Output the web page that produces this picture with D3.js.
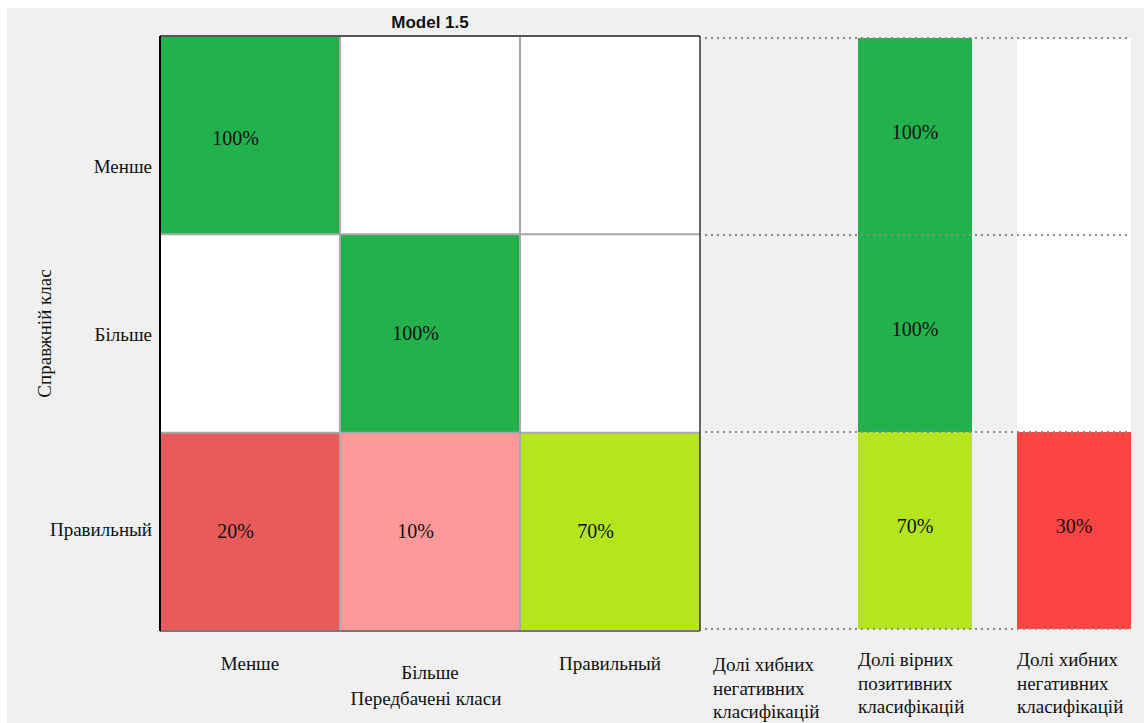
<!DOCTYPE html>
<html>
<head>
<meta charset="utf-8">
<script src="https://cdn.jsdelivr.net/npm/d3@7"></script>
<style>
  body { margin: 0; background: #fff; }
  text { fill: #111; }
</style>
</head>
<body>
<div id="chart"></div>
<script>
const W = 1144, H = 723;

const actual = ["Менше", "Більше", "Правильный"];
const predicted = ["Менше", "Більше", "Правильный"];
const matrix = [
  [100, 0, 0],
  [0, 100, 0],
  [20, 10, 70]
];
const rateCols = ["fnrEmpty", "tpr", "fnr"];
const rateLabels = [
  ["Долі хибних", "негативних", "класифікацій"],
  ["Долі вірних", "позитивних", "класифікацій"],
  ["Долі хибних", "негативних", "класифікацій"]
];
const rateValues = [
  [null, null, null],
  [100, 100, 70],
  [0, 0, 30]
];

const green = "#22b14c", lime = "#b5e61d";

function cellColor(v, r, c) {
  if (v === 0) return "#fff";
  if (r === c) return v === 100 ? green : lime;
  return v >= 20 ? "#e85b5b" : "#ff9999";
}
function rateColor(v, col) {
  if (col === "tpr") return v === 100 ? green : lime;
  return v === 0 ? "#fff" : "#ff4444";
}

const svg = d3.select("#chart").append("svg")
  .attr("width", W).attr("height", H)
  .style("font-family", "'Liberation Serif', 'Times New Roman', serif");

// grey panel
svg.append("rect").attr("x", 7).attr("y", 8)
  .attr("width", W - 7).attr("height", H - 8).attr("fill", "#f0f0f0");

const x = d3.scaleBand().domain(predicted).range([160, 700]);
const y = d3.scaleBand().domain(actual).range([36, 631]);
const xr = d3.scaleBand().domain(rateCols).range([699, 1131]).paddingInner(0.283);
const yr = d3.scaleBand().domain(actual).range([38, 629]);

// matrix cells
const cells = [];
matrix.forEach((row, r) => row.forEach((v, c) => cells.push({ r, c, v })));

svg.append("g").selectAll("rect")
  .data(cells)
  .join("rect")
    .attr("x", d => x(predicted[d.c]))
    .attr("y", d => y(actual[d.r]))
    .attr("width", x.bandwidth())
    .attr("height", y.bandwidth())
    .attr("fill", d => cellColor(d.v, d.r, d.c));

// grid lines
const grid = svg.append("g").attr("stroke", "#a8a8a8").attr("stroke-width", 2);
predicted.slice(1).forEach(p => {
  grid.append("line").attr("x1", x(p)).attr("x2", x(p))
    .attr("y1", y.range()[0]).attr("y2", y.range()[1]);
});
actual.slice(1).forEach(a => {
  grid.append("line").attr("x1", x.range()[0]).attr("x2", x.range()[1])
    .attr("y1", y(a)).attr("y2", y(a));
});

// outer border
const [x0, x1] = x.range(), [y0, y1] = y.range();
svg.append("line").attr("x1", x0).attr("x2", x1).attr("y1", y0).attr("y2", y0)
  .attr("stroke", "#555").attr("stroke-width", 2);
svg.append("line").attr("x1", x0).attr("x2", x1).attr("y1", y1).attr("y2", y1)
  .attr("stroke", "#777").attr("stroke-width", 2);
svg.append("line").attr("x1", x1).attr("x2", x1).attr("y1", y0).attr("y2", y1)
  .attr("stroke", "#333").attr("stroke-width", 1.5);
svg.append("line").attr("x1", x0).attr("x2", x0).attr("y1", y0).attr("y2", y1)
  .attr("stroke", "#000").attr("stroke-width", 2);

// matrix values
svg.append("g").selectAll("text")
  .data(cells.filter(d => d.v > 0))
  .join("text")
    .attr("x", d => x(predicted[d.c]) + x.bandwidth() * 0.42)
    .attr("y", d => y(actual[d.r]) + y.bandwidth() / 2 + (d.r === 0 ? 3 : -1))
    .attr("dy", "0.35em")
    .attr("text-anchor", "middle")
    .style("font-size", "20px")
    .text(d => d.v + "%");

// rate columns
const rateCells = [];
rateValues.forEach((vals, ci) => vals.forEach((v, r) => {
  if (v !== null) rateCells.push({ col: rateCols[ci], r, v });
}));

svg.append("g").selectAll("rect")
  .data(rateCells)
  .join("rect")
    .attr("x", d => xr(d.col))
    .attr("y", d => yr(actual[d.r]))
    .attr("width", xr.bandwidth())
    .attr("height", yr.bandwidth())
    .attr("fill", d => rateColor(d.v, d.col));

// dotted guides
const bounds = actual.map(a => yr(a)).concat([yr.range()[1]]);
svg.append("g").selectAll("line")
  .data(bounds)
  .join("line")
    .attr("x1", 705).attr("x2", xr.range()[1])
    .attr("y1", d => d).attr("y2", d => d)
    .attr("stroke", "#8c8c8c")
    .attr("stroke-width", 2)
    .attr("stroke-dasharray", "2,4");

svg.append("g").selectAll("text")
  .data(rateCells.filter(d => d.v > 0))
  .join("text")
    .attr("x", d => xr(d.col) + xr.bandwidth() / 2)
    .attr("y", d => yr(actual[d.r]) + yr.bandwidth() / 2 - 5)
    .attr("dy", "0.35em")
    .attr("text-anchor", "middle")
    .style("font-size", "20px")
    .text(d => d.v + "%");

// rate column labels
rateLabels.forEach((lines, ci) => {
  const first = ci === 0;
  const t = svg.append("text")
    .attr("x", xr(rateCols[ci]) + (first ? 14 : 0))
    .attr("y", first ? 671 : 666)
    .style("font-size", "19px");
  lines.forEach((ln, i) => {
    t.append("tspan")
      .attr("x", xr(rateCols[ci]) + (first ? 14 : 0))
      .attr("dy", i === 0 ? 0 : 23.5)
      .text(ln);
  });
});

// y axis labels
const yAxis = svg.append("g")
  .attr("transform", `translate(${x0},0)`)
  .call(d3.axisLeft(y).tickSize(0).tickPadding(8));
yAxis.select(".domain").remove();
yAxis.selectAll("text")
  .style("font-family", "'Liberation Serif', 'Times New Roman', serif")
  .style("font-size", "19px")
  .attr("dy", "0.32em")
  .attr("y", (d, i) => [32, 1, -2][i]);

// x axis labels
const xAxis = svg.append("g")
  .attr("transform", `translate(0,${y1})`)
  .call(d3.axisBottom(x).tickSize(0).tickPadding(0));
xAxis.select(".domain").remove();
xAxis.selectAll("text")
  .style("font-family", "'Liberation Serif', 'Times New Roman', serif")
  .style("font-size", "19px")
  .attr("dy", 0)
  .attr("y", (d, i) => i === 1 ? 48 : 39);

svg.append("text")
  .attr("x", (x0 + x1) / 2 - 4)
  .attr("y", 705)
  .attr("text-anchor", "middle")
  .style("font-size", "19px")
  .text("Передбачені класи");

svg.append("text")
  .attr("transform", `translate(51,${(y0 + y1) / 2}) rotate(-90)`)
  .attr("text-anchor", "middle")
  .style("font-size", "19px")
  .text("Справжній клас");

svg.append("text")
  .attr("x", (x0 + x1) / 2)
  .attr("y", 28)
  .attr("text-anchor", "middle")
  .style("font-family", "Arial, 'Liberation Sans', sans-serif")
  .style("font-weight", "bold")
  .style("font-size", "17px")
  .text("Model 1.5");
</script>
</body>
</html>
